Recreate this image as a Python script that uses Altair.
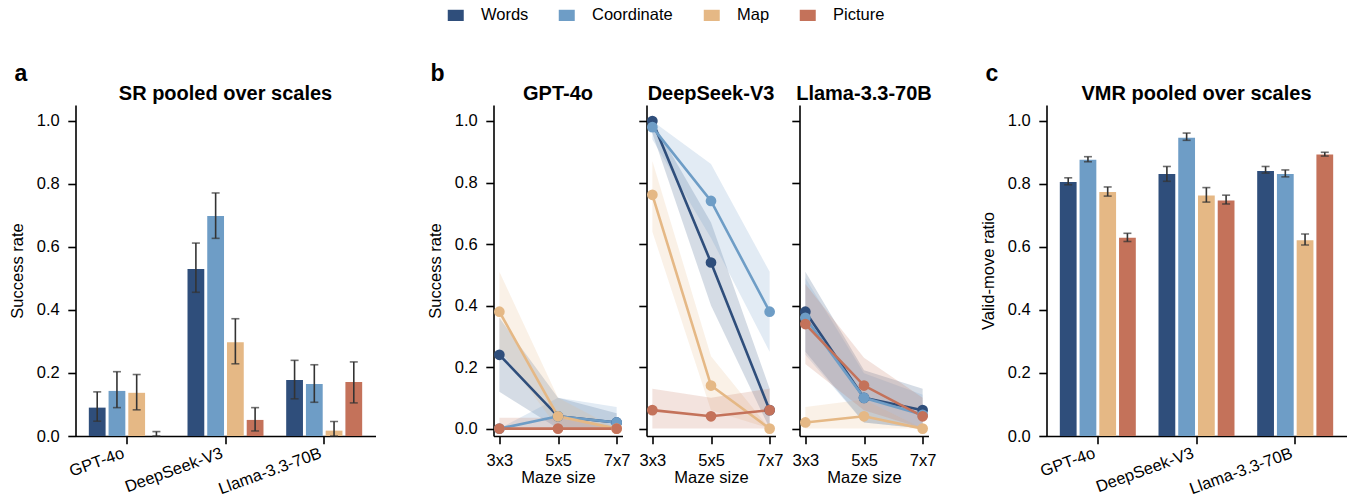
import altair as alt
import pandas as pd

FONT = "Liberation Sans"

models = ["GPT-4o", "DeepSeek-V3", "Llama-3.3-70B"]
reps = ["Words", "Coordinate", "Map", "Picture"]
colors = ["#2F4E7B", "#6E9DC6", "#E5B885", "#C4725A"]
sizes = ["3x3", "5x5", "7x7"]

# Panel a: success rate pooled over scales (per model, per representation)
sr_mean = {"Words": [0.090, 0.530, 0.178], "Coordinate": [0.143, 0.698, 0.165],
           "Map": [0.137, 0.297, 0.017], "Picture": [0.0, 0.051, 0.171]}
sr_lo = {"Words": [0.047, 0.456, 0.118], "Coordinate": [0.090, 0.627, 0.107],
         "Map": [0.083, 0.229, 0.0], "Picture": [0.0, 0.016, 0.105]}
sr_hi = {"Words": [0.140, 0.612, 0.240], "Coordinate": [0.204, 0.771, 0.226],
         "Map": [0.195, 0.372, 0.046], "Picture": [0.014, 0.090, 0.235]}

# Panel c: valid-move ratio pooled over scales
vmr_mean = {"Words": [0.806, 0.831, 0.841], "Coordinate": [0.876, 0.946, 0.831],
            "Map": [0.774, 0.763, 0.621], "Picture": [0.629, 0.747, 0.893]}
vmr_lo = {"Words": [0.797, 0.808, 0.834], "Coordinate": [0.870, 0.938, 0.822],
          "Map": [0.761, 0.742, 0.606], "Picture": [0.617, 0.736, 0.888]}
vmr_hi = {"Words": [0.819, 0.855, 0.855], "Coordinate": [0.886, 0.961, 0.844],
          "Map": [0.790, 0.788, 0.641], "Picture": [0.643, 0.764, 0.900]}

# Panel b: success rate by maze size
gpt_mean = {"Words": [0.24, 0.04, 0.02], "Coordinate": [0.0, 0.04, 0.02],
            "Map": [0.38, 0.04, 0.0], "Picture": [0.0, 0.0, 0.0]}
gpt_lo = {"Words": [0.12, 0.0, 0.0], "Coordinate": [0.0, 0.0, 0.0],
          "Map": [0.26, 0.0, 0.0], "Picture": [0.0, 0.0, 0.0]}
gpt_hi = {"Words": [0.36, 0.10, 0.05], "Coordinate": [0.0, 0.10, 0.07],
          "Map": [0.51, 0.10, 0.0], "Picture": [0.035, 0.035, 0.0]}

ds_mean = {"Words": [1.0, 0.54, 0.06], "Coordinate": [0.98, 0.74, 0.38],
           "Map": [0.76, 0.14, 0.0], "Picture": [0.06, 0.04, 0.06]}
ds_lo = {"Words": [0.96, 0.40, 0.0], "Coordinate": [0.94, 0.62, 0.25],
         "Map": [0.64, 0.06, 0.0], "Picture": [0.0, 0.0, 0.0]}
ds_hi = {"Words": [1.0, 0.67, 0.13], "Coordinate": [1.0, 0.86, 0.51],
         "Map": [0.87, 0.235, 0.0], "Picture": [0.13, 0.10, 0.13]}

ll_mean = {"Words": [0.38, 0.10, 0.06], "Coordinate": [0.36, 0.10, 0.045],
           "Map": [0.02, 0.04, 0.0], "Picture": [0.34, 0.14, 0.04]}
ll_lo = {"Words": [0.25, 0.02, 0.0], "Coordinate": [0.24, 0.02, 0.0],
         "Map": [0.0, 0.0, 0.0], "Picture": [0.21, 0.06, 0.0]}
ll_hi = {"Words": [0.51, 0.19, 0.13], "Coordinate": [0.49, 0.18, 0.11],
         "Map": [0.07, 0.095, 0.0], "Picture": [0.47, 0.23, 0.10]}

LABEL_FS = 16.5
TITLE_FS = 20
ERR_COLOR = "#333333"
H = 331
W_BAR = 300
W_LINE = 129


def bar_frame(mean, lo, hi):
    rows = []
    for r in reps:
        for i, m in enumerate(models):
            rows.append({"model": m, "rep": r, "value": mean[r][i], "lo": lo[r][i], "hi": hi[r][i]})
    return pd.DataFrame(rows)


def line_frame(mean, lo, hi):
    rows = []
    for r in reps:
        for i, s in enumerate(sizes):
            rows.append({"size": s, "rep": r, "value": mean[r][i], "lo": lo[r][i], "hi": hi[r][i]})
    return pd.DataFrame(rows)


legend = alt.Legend(
    orient="none", legendX=372, legendY=-98, direction="horizontal", title=None,
    symbolType="M-1,-0.7H1V0.7H-1Z", symbolSize=256, symbolStrokeWidth=0,
    symbolOpacity=1, labelFontSize=LABEL_FS, labelFont=FONT, labelColor="black",
    labelOffset=17, columnPadding=30, padding=0,
)
color = alt.Color("rep:N", sort=reps, scale=alt.Scale(domain=reps, range=colors), legend=legend)

yticks = [0.0, 0.2, 0.4, 0.6, 0.8, 1.0]


def text_layer(txt, x, y, size, align="center"):
    return alt.Chart(pd.DataFrame({"t": [txt]})).mark_text(
        font=FONT, fontSize=size, fontWeight="bold", align=align, baseline="alphabetic", color="black"
    ).encode(x=alt.value(x), y=alt.value(y), text="t:N")


def bar_panel(df, ytitle, title, letter):
    x = alt.X("model:N", sort=models,
              scale=alt.Scale(paddingInner=0.2, paddingOuter=0.12),
              axis=alt.Axis(title=None, labelAngle=340, labelAlign="right",
                            labelBaseline="top", labelPadding=1, labelOffset=-6))
    xo = alt.XOffset("rep:N", sort=reps, scale=alt.Scale(paddingInner=0.15, paddingOuter=0.075))
    y = alt.Y("value:Q", scale=alt.Scale(domain=[0, 1.05], nice=False),
              axis=alt.Axis(values=yticks, format=".1f", title=ytitle))
    base = alt.Chart(df)
    bars = base.mark_bar().encode(x=x, xOffset=xo, y=y, color=color)
    err = base.mark_rule(color=ERR_COLOR, strokeWidth=1.6).encode(
        x=x, xOffset=xo, y="lo:Q", y2="hi:Q")
    cap_lo = base.mark_tick(orient="horizontal", size=8, thickness=1.6, color=ERR_COLOR).encode(
        x=x, xOffset=xo, y="lo:Q")
    cap_hi = base.mark_tick(orient="horizontal", size=8, thickness=1.6, color=ERR_COLOR).encode(
        x=x, xOffset=xo, y="hi:Q")
    return alt.layer(
        bars, err, cap_lo, cap_hi,
        text_layer(title, W_BAR / 2, -5, TITLE_FS),
        text_layer(letter, -61, -24, 23, align="left"),
    ).properties(width=W_BAR, height=H)


def line_panel(df, title, first, letter=None):
    x = alt.X("size:O", sort=sizes, scale=alt.Scale(type="point", padding=0.1),
              axis=alt.Axis(title="Maze size", labelAngle=0, labelOverlap=False, titlePadding=1))
    if first:
        yaxis = alt.Axis(values=yticks, format=".1f", title="Success rate")
    else:
        yaxis = alt.Axis(values=yticks, labels=False, title=None)
    yscale = alt.Scale(domain=[-0.024, 1.052], nice=False)
    y = alt.Y("value:Q", scale=yscale, axis=yaxis)
    base = alt.Chart(df)
    band = base.mark_area(opacity=0.2).encode(
        x=x, y=alt.Y("lo:Q", scale=yscale, axis=yaxis), y2="hi:Q", color=color)
    line = base.mark_line(strokeWidth=2.6).encode(x=x, y=y, color=color)
    pts = base.mark_circle(size=115, opacity=1).encode(x=x, y=y, color=color)
    layers = [band, line, pts, text_layer(title, W_LINE / 2, -5, TITLE_FS)]
    if letter:
        layers.append(text_layer(letter, -63, -24, 23, align="left"))
    return alt.layer(*layers).properties(width=W_LINE, height=H)


def spacer(w):
    return alt.Chart(pd.DataFrame({"v": [0]})).mark_point(opacity=0).encode(
        x=alt.X("v:Q", axis=None), y=alt.Y("v:Q", axis=None)
    ).properties(width=w, height=H)


panel_a = bar_panel(bar_frame(sr_mean, sr_lo, sr_hi), "Success rate", "SR pooled over scales", "a")
panel_c = bar_panel(bar_frame(vmr_mean, vmr_lo, vmr_hi), "Valid-move ratio", "VMR pooled over scales", "c")
b1 = line_panel(line_frame(gpt_mean, gpt_lo, gpt_hi), "GPT-4o", True, "b")
b2 = line_panel(line_frame(ds_mean, ds_lo, ds_hi), "DeepSeek-V3", False)
b3 = line_panel(line_frame(ll_mean, ll_lo, ll_hi), "Llama-3.3-70B", False)

chart = alt.hconcat(
    panel_a, spacer(70), b1, b2, b3, spacer(70), panel_c, spacing=24, bounds="flush"
).resolve_scale(
    x="independent", y="independent", color="shared"
).properties(
    padding={"left": 8.5, "top": 7, "right": 3, "bottom": 4}
).configure_view(
    stroke=None
).configure_axis(
    grid=False, domainColor="black", domainWidth=1.6, tickColor="black", tickWidth=1.6,
    tickSize=7.7, labelFont=FONT, labelFontSize=LABEL_FS, labelColor="black", labelPadding=8.5,
    titleFont=FONT, titleFontSize=LABEL_FS, titleFontWeight="normal", titleColor="black",
    titlePadding=11,
)

chart.save("out.html", embed_options={"renderer": "svg", "actions": False})
